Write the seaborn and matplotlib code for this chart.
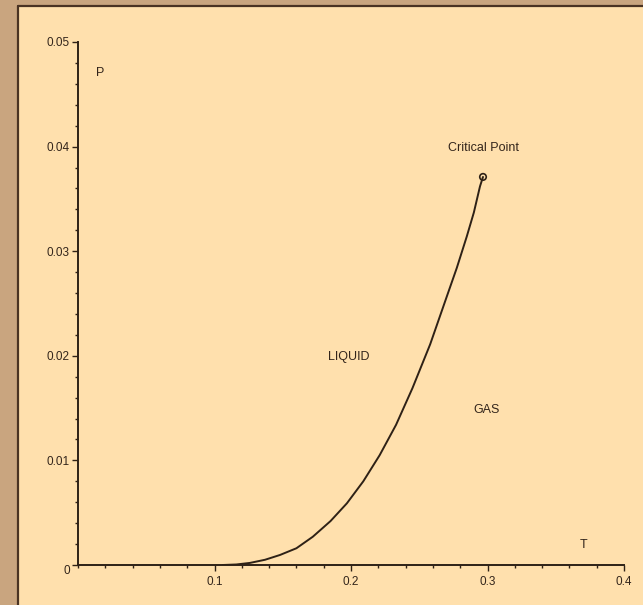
import matplotlib
matplotlib.use("Agg")
import matplotlib.pyplot as plt
from matplotlib.patches import Rectangle
from matplotlib.lines import Line2D
from matplotlib.ticker import MultipleLocator
import seaborn as sns
import pandas as pd

# Liquid-gas coexistence curve (temperature T, pressure P)
T_curve = [0.106, 0.116, 0.126, 0.137, 0.148, 0.160, 0.172, 0.185, 0.197,
           0.209, 0.221, 0.233, 0.245, 0.258, 0.270, 0.2775, 0.2848, 0.2900,
           0.2945, 0.2967]
P_curve = [0.0, 0.00005, 0.0002, 0.0005, 0.00096, 0.0016, 0.0027, 0.0042, 0.0059,
           0.0080, 0.0105, 0.0134, 0.0169, 0.0211, 0.0256, 0.0284, 0.0314, 0.0337,
           0.0362, 0.0371]

# Critical point
T_crit = [0.2967]
P_crit = [0.0371]

x_ticks = [0.1, 0.2, 0.3, 0.4]
x_tick_labels = ["0.1", "0.2", "0.3", "0.4"]
y_ticks = [0.0, 0.01, 0.02, 0.03, 0.04, 0.05]
y_tick_labels = ["0", "0.01", "0.02", "0.03", "0.04", "0.05"]

sns.set_theme(style="white")
plt.rcParams["font.family"] = ["Liberation Sans", "DejaVu Sans"]

OUTER = "#c9a57f"
PANEL = "#ffe0ad"
INK = "#2e2116"
TEXT = "#33251b"

W, H = 643, 605
fig = plt.figure(figsize=(W / 100, H / 100), dpi=100)
fig.patch.set_facecolor(OUTER)

# cream panel with a dark frame on its top and left edges
x0, y1 = 18 / W, 1 - 6 / H
fig.add_artist(Rectangle((x0, 0), 1 - x0, y1, transform=fig.transFigure,
                         facecolor=PANEL, edgecolor="none", zorder=0))
fig.add_artist(Line2D([x0, x0], [0, y1], transform=fig.transFigure,
                      color="#4a3323", lw=1.6, zorder=1))
fig.add_artist(Line2D([x0, 1], [y1, y1], transform=fig.transFigure,
                      color="#4a3323", lw=1.6, zorder=1))

left, right = 78 / W, 624 / W
bottom, top = 1 - 565 / H, 1 - 42 / H
ax = fig.add_axes([left, bottom, right - left, top - bottom])
ax.set_facecolor("none")

df = pd.DataFrame({"T": T_curve, "P": P_curve})
sns.lineplot(data=df, x="T", y="P", ax=ax, color=INK, lw=1.4, sort=False,
             estimator=None)
sns.scatterplot(x=T_crit, y=P_crit, ax=ax, marker="o", s=22,
                facecolor="none", edgecolor=INK, linewidth=1.2, zorder=5)

ax.set_xlim(0, 0.4)
ax.set_ylim(0, 0.05)
ax.set_xlabel("")
ax.set_ylabel("")

for side in ("top", "right"):
    ax.spines[side].set_visible(False)
for side in ("left", "bottom"):
    ax.spines[side].set_color(INK)
    ax.spines[side].set_linewidth(1.4)

ax.set_xticks(x_ticks)
ax.set_xticklabels(x_tick_labels)
ax.set_yticks(y_ticks)
ax.set_yticklabels(y_tick_labels)
ax.xaxis.set_minor_locator(MultipleLocator(0.02))
ax.yaxis.set_minor_locator(MultipleLocator(0.002))

ax.tick_params(axis="both", which="major", direction="out", length=4, width=1.0,
               color=INK, labelsize=8.5, labelcolor=TEXT)
ax.tick_params(axis="both", which="minor", direction="out", length=2.5, width=1.0,
               color=INK)
ax.tick_params(axis="x", which="both", bottom=True, pad=4)
ax.tick_params(axis="y", which="both", left=True, pad=2)
ax.get_yticklabels()[0].set_verticalalignment("top")

txt = dict(color=TEXT, fontsize=9, ha="center", va="center")
ax.text(0.016, 0.047, "P", **txt)
ax.text(0.370, 0.0019, "T", **txt)
ax.text(0.198, 0.0199, "LIQUID", **txt)
ax.text(0.2996, 0.0148, "GAS", **txt)
ax.text(0.297, 0.0399, "Critical Point", **txt)

fig.savefig("out.png", dpi=100, facecolor=fig.get_facecolor())
